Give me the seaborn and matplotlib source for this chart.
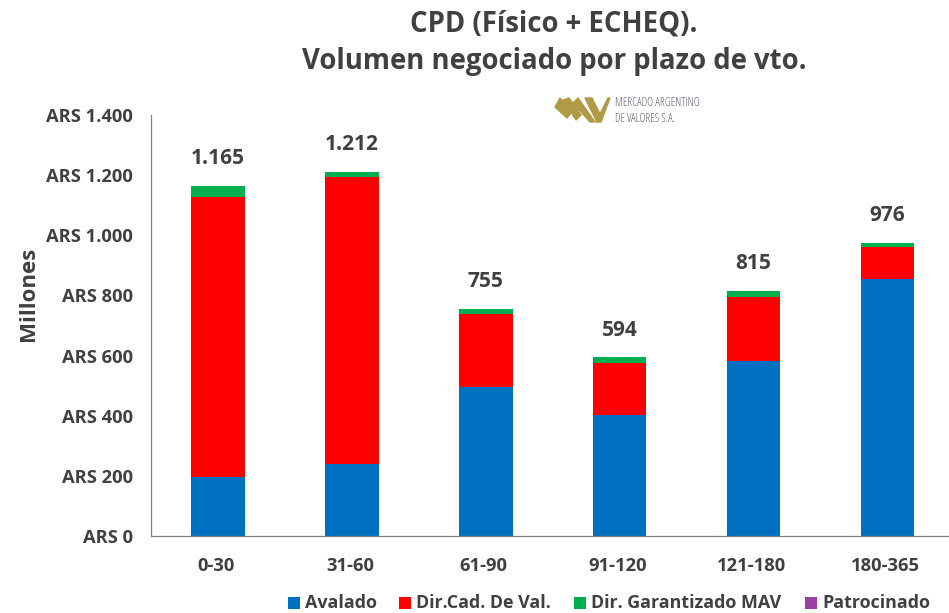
import numpy as np
import pandas as pd
import matplotlib
matplotlib.use("Agg")
import matplotlib.pyplot as plt
from matplotlib.patches import Polygon
from matplotlib.transforms import ScaledTranslation
import seaborn as sns

plazos = ["0-30", "31-60", "61-90", "91-120", "121-180", "180-365"]
avalado = [195, 240, 495, 403, 582, 853]
dir_cad = [932, 953, 243, 172, 212, 108]
dir_garantizado = [38, 19, 17, 19, 21, 15]
patrocinado = [0, 0, 0, 0, 0, 0]
totales = ["1.165", "1.212", "755", "594", "815", "976"]
total_pos = [1165, 1212, 755, 594, 815, 976]
y_ticks = [0, 200, 400, 600, 800, 1000, 1200, 1400]
y_labels = ["ARS 0", "ARS 200", "ARS 400", "ARS 600", "ARS 800", "ARS 1.000", "ARS 1.200", "ARS 1.400"]

series = ["Avalado", "Dir.Cad. De Val.", "Dir. Garantizado MAV", "Patrocinado"]
colores = ["#0070C0", "#FF0000", "#00B050", "#9B3FA5"]

sns.set_theme(style="white")
plt.rcParams["font.family"] = ["Open Sans", "DejaVu Sans"]
GRIS = "#404040"

df = pd.DataFrame({"plazo": plazos, "Avalado": avalado, "Dir.Cad. De Val.": dir_cad,
                   "Dir. Garantizado MAV": dir_garantizado, "Patrocinado": patrocinado})

fig = plt.figure(figsize=(9.49, 6.13), dpi=100)
ax = fig.add_axes([151 / 949, 1 - 536 / 613, (949 - 151) / 949, (536 - 115) / 613])

# barras apiladas con seaborn, de arriba hacia abajo
acum = np.zeros(len(plazos))
capas = []
for s in series:
    acum = acum + df[s].values
    capas.append((s, acum.copy()))
for (s, alto), c in zip(reversed(capas), reversed(colores)):
    sns.barplot(x=plazos, y=alto, color=c, saturation=1, width=0.4, ax=ax, linewidth=0)

ax.set_xlim(-0.5, 5.46)
ax.set_ylim(0, 1400)
ax.set_yticks(y_ticks)
ax.set_yticklabels(y_labels, fontsize=13.2, fontweight="bold", color=GRIS)
ax.tick_params(axis="x", labelsize=13.2, colors=GRIS, length=0, pad=15)
ax.tick_params(axis="y", length=0, pad=13)
# las etiquetas del eje x van un poco a la izquierda de las barras
corrimiento = ScaledTranslation(-2 / 100, 0, fig.dpi_scale_trans)
for lab in ax.get_xticklabels():
    lab.set_fontweight("bold")
    lab.set_transform(lab.get_transform() + corrimiento)
ax.set_ylabel("Millones", fontsize=16, fontweight="bold", color=GRIS, labelpad=5, y=0.575)
ax.set_xlabel("")
sns.despine(ax=ax)
for lado in ["left", "bottom"]:
    ax.spines[lado].set_color("#808080")
    ax.spines[lado].set_linewidth(0.9)

for i, (t, y) in enumerate(zip(totales, total_pos)):
    ax.annotate(t, (i, y), xytext=(0, 12), textcoords="offset points", ha="center", va="bottom",
                fontsize=15, fontweight="bold", color=GRIS)

fig.text(554 / 949, 1 - 24 / 613, "CPD (Físico + ECHEQ).", ha="center", va="center",
         fontsize=19.8, fontweight="bold", color=GRIS)
fig.text(554 / 949, 1 - 62 / 613, "Volumen negociado por plazo de vto.", ha="center", va="center",
         fontsize=19.8, fontweight="bold", color=GRIS)

# logo MAV
logo = fig.add_axes([0, 0, 1, 1], facecolor="none")
logo.set_xlim(0, 949)
logo.set_ylim(613, 0)
logo.axis("off")
dorado = "#B09A45"
logo.add_patch(Polygon([(555, 107), (560, 98), (572, 112), (567, 118)], color=dorado))
logo.add_patch(Polygon([(563, 100), (569, 98), (581, 115), (576, 120)], color=dorado))
logo.add_patch(Polygon([(573, 103), (578, 98), (595, 122), (590, 122)], color=dorado))
logo.add_patch(Polygon([(585, 98), (592, 98), (600, 114), (597, 122)], color=dorado))
logo.add_patch(Polygon([(596, 122), (608, 98), (610, 98), (601, 122)], color=dorado))
logo.text(615, 103, "MERCADO ARGENTINO", fontsize=8.3, color="#5F6670", va="center", stretch="condensed")
logo.text(615, 118, "DE VALORES S.A.", fontsize=8.3, color="#5F6670", va="center", stretch="condensed")

# leyenda manual
ley_x = [288, 399, 574, 805]
for x, s, c in zip(ley_x, series, colores):
    logo.add_patch(plt.Rectangle((x, 597), 12, 12, color=c, lw=0))
    logo.text(x + 17, 603, s, fontsize=12.9, fontweight="bold", color=GRIS, va="center", ha="left")

fig.savefig("out.png", dpi=100)
